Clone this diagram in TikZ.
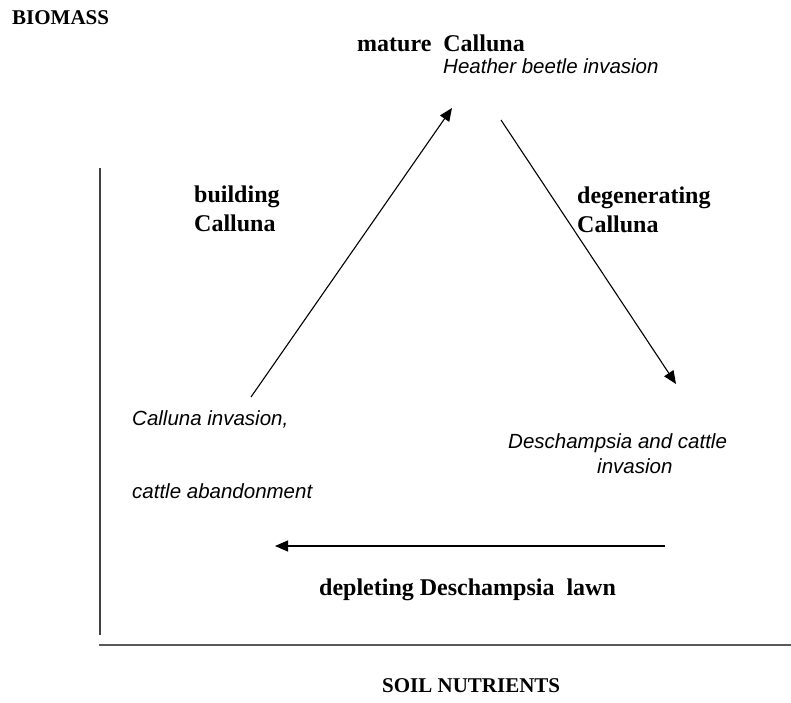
\documentclass[tikz,border=0pt]{standalone}
\usepackage{fontspec}
\setmainfont{Liberation Serif}
\newfontfamily\arialfont{Liberation Sans}
\usetikzlibrary{arrows.meta}

\begin{document}
\begin{tikzpicture}[x=1pt,y=-1pt,
  axislabel/.style={anchor=base west,inner sep=0pt,font=\fontsize{21}{24}\selectfont\bfseries},
  stagelabel/.style={anchor=base west,inner sep=0pt,align=left,font=\fontsize{24}{29}\selectfont\bfseries},
  eventlabel/.style={anchor=base west,inner sep=0pt,font=\fontsize{20.5}{24}\selectfont\arialfont\itshape},
  axisline/.style={draw=black!75,line width=1.6pt},
  cycle/.style={draw=black,line width=1.1pt,-{Triangle[length=13pt,width=11pt]}}]

\useasboundingbox (0,0) rectangle (791,702);

% axes
\coordinate (ytop) at (100,168);
\coordinate (ybot) at (100,635);
\coordinate (xleft) at (99,645);
\coordinate (xright) at (791,645);
\draw[axisline] (ytop) -- (ybot);
\draw[axisline,draw=black!65,line width=2pt] (xleft) -- (xright);

\node[axislabel] (biomass) at (12,24) {BIOMASS};
\node[axislabel] (soil) at (382,692) {SOIL NUTRIENTS};

% stages of the cycle (multi-line nodes sit on the baseline of their last line)
\node[stagelabel] (mature) at (357,51) {mature\ \ Calluna};
\node[eventlabel] (beetle) at (443,73) {Heather beetle invasion};
\node[stagelabel] (building) at (194,231) {building\\Calluna};
\node[stagelabel] (degen) at (577,232) {degenerating\\Calluna};
\node[eventlabel] (callinv) at (132,425) {Calluna invasion,};
\node[eventlabel] (abandon) at (132,498) {cattle abandonment};
\node[eventlabel] (desch) at (508,448) {Deschampsia and cattle};
\node[eventlabel] (desch2) at (597,473) {invasion};
\node[stagelabel] (lawn) at (319,595) {depleting Deschampsia\ \ lawn};

% cycle arrows
\coordinate (upstart) at (251,397);
\coordinate (uptip) at (452,108);
\coordinate (downstart) at (501,120);
\coordinate (downtip) at (676,384);
\coordinate (backstart) at (665,546);
\coordinate (backtip) at (275,546);
\draw[cycle] (upstart) -- (uptip);
\draw[cycle] (downstart) -- (downtip);
\draw[cycle] (backstart) -- (backtip);
\end{tikzpicture}
\end{document}
